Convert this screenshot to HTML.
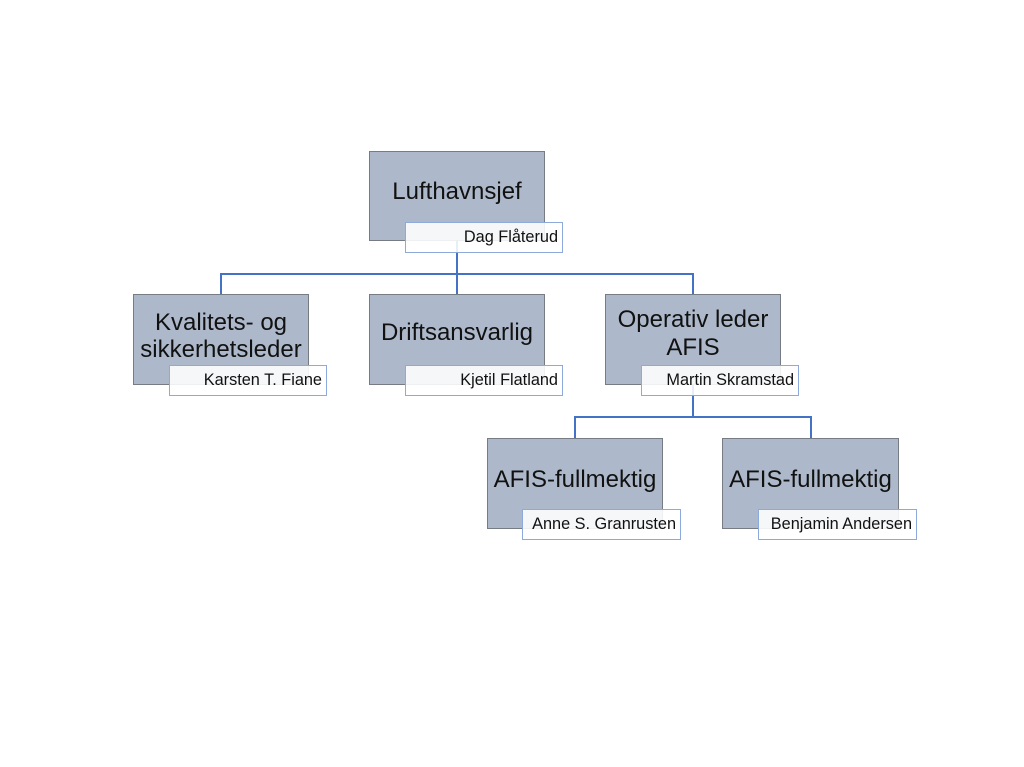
<!DOCTYPE html>
<html>
<head>
<meta charset="utf-8">
<style>
  html,body{margin:0;padding:0;background:#fff;}
  body{width:1024px;height:767px;position:relative;overflow:hidden;font-family:"Liberation Sans",Arial,sans-serif;}
  .box{position:absolute;background:#adb9ca;border:1px solid #767b84;box-sizing:border-box;}
  .name{position:absolute;background:rgba(255,255,255,0.88);border:1px solid #8eaadc;box-sizing:border-box;
        font-size:16.3px;line-height:29px;text-align:right;padding-right:4px;color:#111;white-space:nowrap;}
  .t{position:absolute;text-align:center;font-size:24px;color:#111;white-space:nowrap;}
  svg{position:absolute;left:0;top:0;}
</style>
</head>
<body>
<svg width="1024" height="767" viewBox="0 0 1024 767">
  <g stroke="#4472c4" stroke-width="2" fill="none">
    <line x1="457" y1="241" x2="457" y2="294"/>
    <line x1="220" y1="274" x2="694" y2="274"/>
    <line x1="221" y1="274" x2="221" y2="294"/>
    <line x1="693" y1="274" x2="693" y2="294"/>
    <line x1="693" y1="385" x2="693" y2="417"/>
    <line x1="574" y1="417" x2="812" y2="417"/>
    <line x1="575" y1="417" x2="575" y2="438"/>
    <line x1="811" y1="417" x2="811" y2="438"/>
  </g>
</svg>

<div class="box" style="left:369px;top:151px;width:176px;height:90px;"></div>
<div class="box" style="left:133px;top:294px;width:176px;height:91px;"></div>
<div class="box" style="left:369px;top:294px;width:176px;height:91px;"></div>
<div class="box" style="left:605px;top:294px;width:176px;height:91px;"></div>
<div class="box" style="left:487px;top:438px;width:176px;height:91px;"></div>
<div class="box" style="left:722px;top:438px;width:177px;height:91px;"></div>

<div class="t" style="left:369px;top:178px;width:176px;line-height:28px;">Lufthavnsjef</div>
<div class="t" style="left:133px;top:309px;width:176px;line-height:27px;">Kvalitets- og<br>sikkerhetsleder</div>
<div class="t" style="left:369px;top:319px;width:176px;line-height:28px;">Driftsansvarlig</div>
<div class="t" style="left:605px;top:306px;width:176px;line-height:28px;">Operativ leder<br>AFIS</div>
<div class="t" style="left:487px;top:466px;width:176px;line-height:28px;">AFIS-fullmektig</div>
<div class="t" style="left:722px;top:466px;width:177px;line-height:28px;">AFIS-fullmektig</div>

<div class="name" style="left:405px;top:222px;width:158px;height:31px;">Dag Flåterud</div>
<div class="name" style="left:169px;top:365px;width:158px;height:31px;">Karsten T. Fiane</div>
<div class="name" style="left:405px;top:365px;width:158px;height:31px;">Kjetil Flatland</div>
<div class="name" style="left:641px;top:365px;width:158px;height:31px;">Martin Skramstad</div>
<div class="name" style="left:522px;top:509px;width:159px;height:31px;">Anne S. Granrusten</div>
<div class="name" style="left:758px;top:509px;width:159px;height:31px;">Benjamin Andersen</div>
</body>
</html>
